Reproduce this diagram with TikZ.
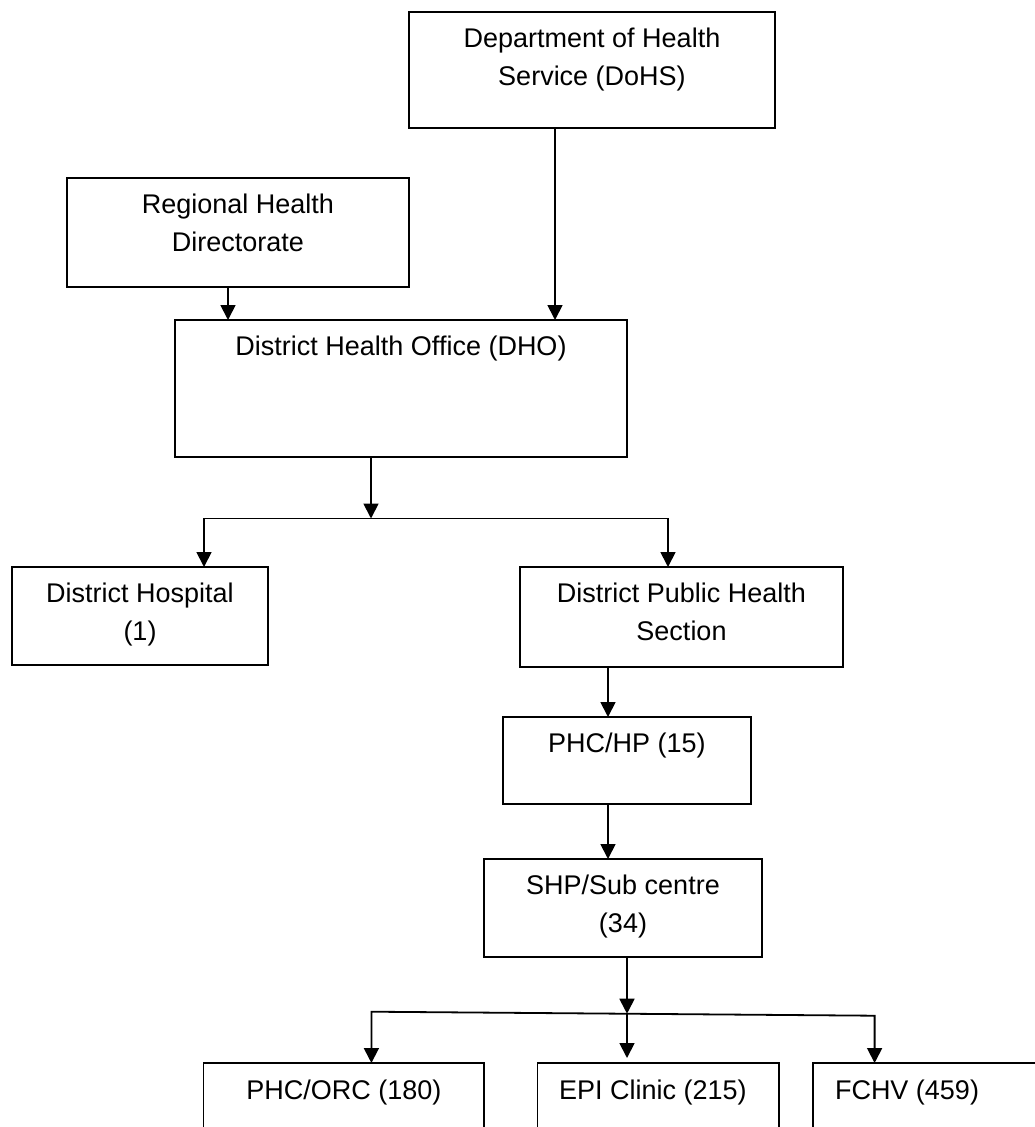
\documentclass[tikz,border=0pt]{standalone}
\usepackage{fontspec}
\setmainfont{Liberation Sans}
\usetikzlibrary{arrows.meta}
\begin{document}
\begin{tikzpicture}[x=1pt,y=-1pt,
  box/.style={draw, line width=1.8pt, inner sep=0pt, outer sep=0pt, anchor=north west},
  txt/.style={inner sep=0pt, outer sep=0pt, align=center, anchor=north, font=\fontsize{27}{38}\selectfont},
  arr/.style={line width=1.8pt, -{Triangle[width=15pt,length=15pt]}},
  darr/.style={line width=1.8pt, {Triangle[width=15pt,length=15pt]}-{Triangle[width=15pt,length=15pt]}},
]
\useasboundingbox (0,0) rectangle (1035,1127);
\fill[white] (0,0) rectangle (1035,1127);
\clip (0,0) rectangle (1035,1127);

% boxes
\node[box, minimum width=366pt, minimum height=116pt] (dohs) at (409,12) {};
\node[box, minimum width=342pt, minimum height=109pt] (rhd) at (67,178) {};
\node[box, minimum width=452pt, minimum height=137pt] (dho) at (175,320) {};
\node[box, minimum width=256pt, minimum height=98pt] (dh) at (12,567) {};
\node[box, minimum width=323pt, minimum height=100pt] (dphs) at (520,567) {};
\node[box, minimum width=248pt, minimum height=87pt] (phc) at (503,717) {};
\node[box, minimum width=278pt, minimum height=98pt] (shp) at (484,859) {};
\node[box, minimum width=280.5pt, minimum height=100pt] (orc) at (203.5,1063) {};
\node[box, minimum width=241.5pt, minimum height=100pt] (epi) at (537.5,1063) {};
\node[box, minimum width=260pt, minimum height=100pt] (fchv) at (813,1063) {};

% texts
\node[txt] (dohsT) at (592,20.5) {Department of Health\strut\\Service (DoHS)\strut};
\node[txt] (rhdT) at (238,186.5) {Regional Health\strut\\Directorate\strut};
\node[txt] (dhoT) at (401,329) {District Health Office (DHO)\strut};
\node[txt] (dhT) at (140,575.5) {District Hospital\strut\\(1)\strut};
\node[txt] (dphsT) at (681.5,575.5) {District Public Health\strut\\Section\strut};
\node[txt] (phcT) at (627,725.5) {PHC/HP (15)\strut};
\node[txt] (shpT) at (623,868) {SHP/Sub centre\strut\\(34)\strut};
\node[txt] (orcT) at (344,1073) {PHC/ORC (180)\strut};
\node[txt] (epiT) at (653,1073) {EPI Clinic (215)\strut};
\node[txt, anchor=north west] (fchvT) at (835,1073) {FCHV (459)\strut};

% connectors
\coordinate (r1) at ([xshift=-10pt]rhd.south);
\draw[arr] (r1) -- (r1 |- dho.north);
\coordinate (d1) at (555,128);
\draw[arr] (dohs.south -| d1) -- (dho.north -| d1);

\coordinate (j1) at ([xshift=-30pt]dho.south);
\coordinate (j1b) at (371,518.5);
\draw[arr] (j1) -- (j1b);
\coordinate (b1l) at (204,518.5);
\coordinate (b1r) at (668,518.5);
\draw[darr] (b1l |- dh.north) -- (b1l) -- (b1r) -- (b1r |- dphs.north);

\coordinate (c1) at (608,700);
\draw[arr] (dphs.south -| c1) -- (phc.north -| c1);
\draw[arr] (phc.south -| c1) -- (shp.north -| c1);

\coordinate (c2) at (627,1013.7);
\draw[arr] (shp.south -| c2) -- (c2);
\coordinate (b2l) at (371.4,1011.7);
\coordinate (b2r) at (874.6,1015.7);
\draw[darr] (b2l |- orc.north) -- (b2l) -- (b2r) -- (b2r |- fchv.north);
\coordinate (e1) at ([yshift=5pt]epi.north);
\draw[arr] (c2) -- (e1 -| c2);
\end{tikzpicture}
\end{document}
